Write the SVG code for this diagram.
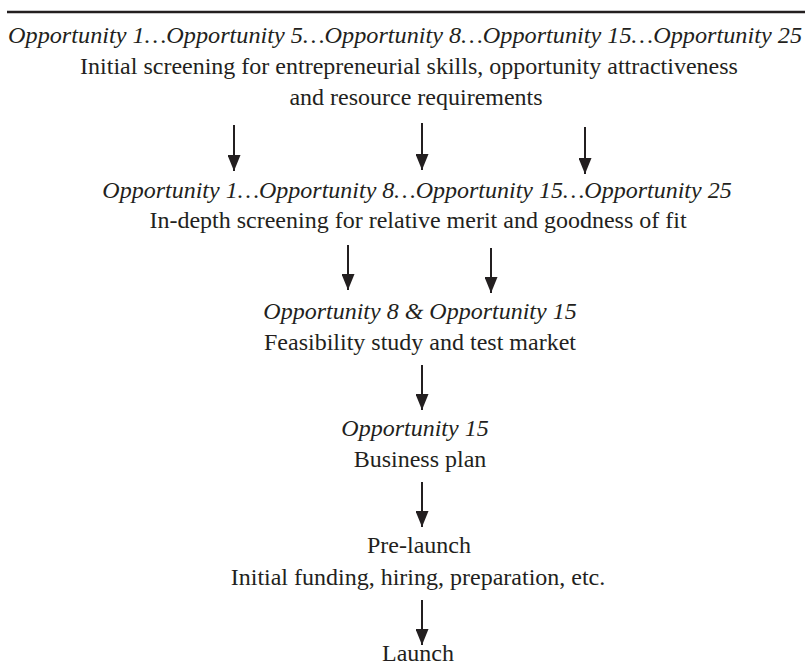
<svg xmlns="http://www.w3.org/2000/svg" width="805" height="667" viewBox="0 0 805 667">
<defs>
<style>
text{font-family:"Liberation Serif","Times New Roman",serif;font-size:24px;fill:#231f20;text-anchor:middle}
.it{font-style:italic}
.conn line{stroke:#231f20;stroke-width:2}
</style>
<marker id="ah" viewBox="0 0 16 13" refX="16" refY="6.5" markerWidth="16" markerHeight="13" markerUnits="userSpaceOnUse" orient="auto">
<path d="M0,0 L16,6.5 L0,13 Z" fill="#231f20"/>
</marker>
</defs>
<rect width="805" height="667" fill="#fff"/>
<line x1="7" y1="12" x2="805" y2="12" stroke="#231f20" stroke-width="2.5"/>
<g id="n1">
<text class="it" x="405" y="43" textLength="794" lengthAdjust="spacingAndGlyphs">Opportunity 1…Opportunity 5…Opportunity 8…Opportunity 15…Opportunity 25</text>
<text x="409" y="74">Initial screening for entrepreneurial skills, opportunity attractiveness</text>
<text x="416" y="105">and resource requirements</text>
</g>
<g id="n2">
<text class="it" x="417" y="198">Opportunity 1…Opportunity 8…Opportunity 15…Opportunity 25</text>
<text x="418" y="228">In-depth screening for relative merit and goodness of fit</text>
</g>
<g id="n3">
<text class="it" x="420" y="319">Opportunity 8 &amp; Opportunity 15</text>
<text x="420" y="350">Feasibility study and test market</text>
</g>
<g id="n4">
<text class="it" x="415" y="436">Opportunity 15</text>
<text x="420" y="467">Business plan</text>
</g>
<g id="n5">
<text x="419" y="553">Pre-launch</text>
<text x="418" y="585">Initial funding, hiring, preparation, etc.</text>
</g>
<g id="n6">
<text x="418" y="661">Launch</text>
</g>
<g class="conn" id="connectors">
<line x1="234" y1="125" x2="234" y2="171" marker-end="url(#ah)"/>
<line x1="422" y1="123" x2="422" y2="170" marker-end="url(#ah)"/>
<line x1="585" y1="127" x2="585" y2="174" marker-end="url(#ah)"/>
<line x1="348" y1="245" x2="348" y2="290" marker-end="url(#ah)"/>
<line x1="491" y1="248" x2="491" y2="293" marker-end="url(#ah)"/>
<line x1="422" y1="365" x2="422" y2="410" marker-end="url(#ah)"/>
<line x1="422" y1="482" x2="422" y2="527" marker-end="url(#ah)"/>
<line x1="422" y1="600" x2="422" y2="645" marker-end="url(#ah)"/>
</g>
</svg>
